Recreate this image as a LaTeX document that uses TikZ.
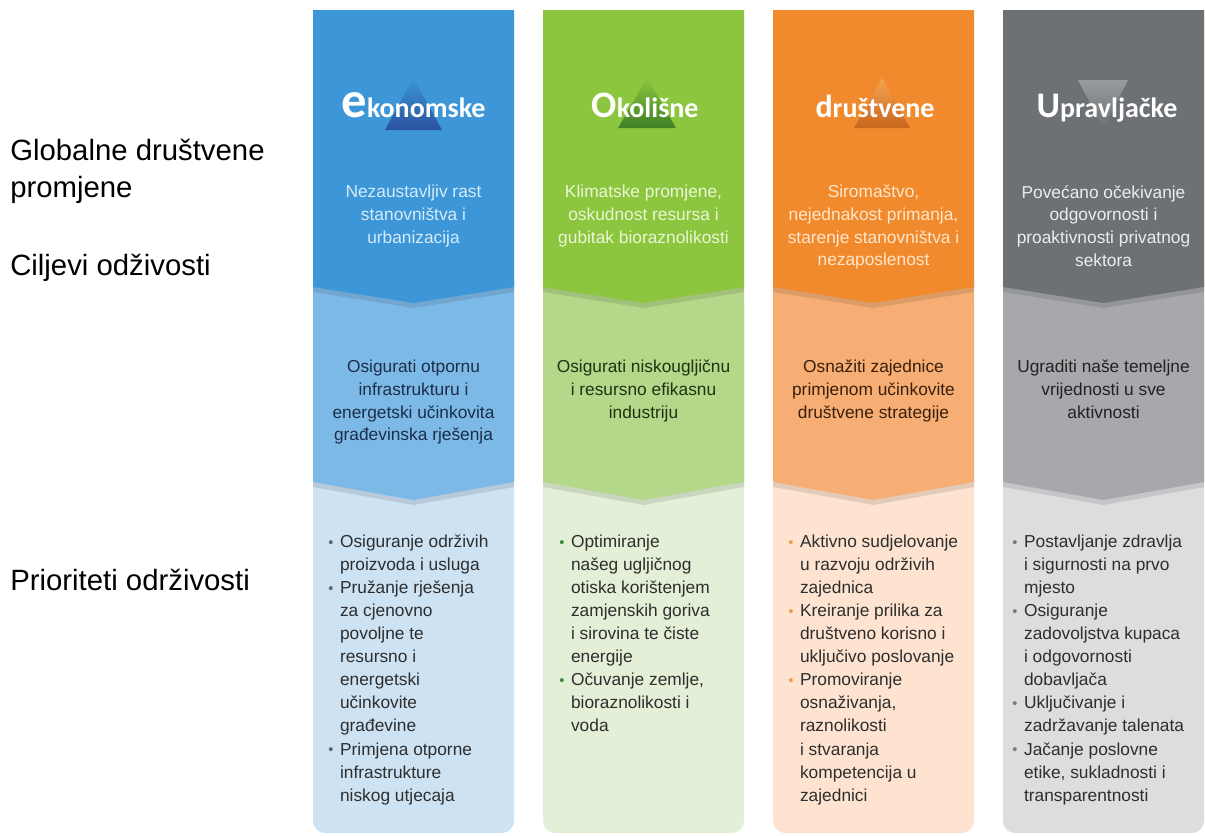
\documentclass[tikz,border=0pt]{standalone}
\usepackage{fontspec}
\setmainfont{Liberation Sans}
\newfontfamily\naslovfont{Carlito}

\definecolor{ekoVrh}{HTML}{3C96D7}
\definecolor{ekoSred}{HTML}{7DB9E7}
\definecolor{ekoDno}{HTML}{CDE2F3}
\definecolor{ekoTamna}{HTML}{2B52A0}
\definecolor{ekoSvj}{HTML}{D6EBFA}
\definecolor{ekoTekst}{HTML}{1C2E4A}
\definecolor{ekoTocka}{HTML}{5F6670}

\definecolor{okoVrh}{HTML}{8CC63E}
\definecolor{okoSred}{HTML}{B4D88A}
\definecolor{okoDno}{HTML}{E3EFD6}
\definecolor{okoTamna}{HTML}{3F7F27}
\definecolor{okoSvj}{HTML}{EAF6D6}
\definecolor{okoTekst}{HTML}{203212}
\definecolor{okoTocka}{HTML}{3C8C3C}

\definecolor{druVrh}{HTML}{F08A2C}
\definecolor{druSred}{HTML}{F6AE74}
\definecolor{druDno}{HTML}{FDE3D0}
\definecolor{druTamna}{HTML}{C9661C}
\definecolor{druSvjTr}{HTML}{F5A552}
\definecolor{druSvj}{HTML}{FFE6CC}
\definecolor{druTekst}{HTML}{3A1F0A}
\definecolor{druTocka}{HTML}{F39A4B}

\definecolor{uprVrh}{HTML}{6D7074}
\definecolor{uprSred}{HTML}{A6A8AB}
\definecolor{uprDno}{HTML}{DCDDDF}
\definecolor{uprSvjTr}{HTML}{999C9F}
\definecolor{uprSvj}{HTML}{EDEDED}
\definecolor{uprTekst}{HTML}{222222}
\definecolor{uprTocka}{HTML}{77797C}

\newcommand{\tocka}[1]{\textcolor{#1}{\raisebox{0.2pt}{\fontsize{11}{11}\selectfont\textbullet}}}

\tikzset{
	oznaka/.style={font=\fontsize{22}{27.75}\selectfont, align=left, inner sep=0pt},
	naslov/.style={font=\naslovfont\bfseries\fontsize{21}{21}\selectfont, text=white, anchor=base, inner sep=0pt},
	trend/.style={font=\fontsize{13}{17}\selectfont, align=center, anchor=north, inner sep=0pt},
	cilj/.style={font=\fontsize{13}{17}\selectfont, align=center, anchor=north, inner sep=0pt},
	prioritet/.style={font=\fontsize{13}{17.3}\selectfont, text=black!82, anchor=north west, inner sep=0pt},
	sjena/.style={fill=black, opacity=0.1},
}

\begin{document}
\begin{tikzpicture}[x=0.75pt,y=-0.75pt]
	\useasboundingbox (0,0) rectangle (1205,835);
	
	% oznake lijevo
	\node[oznaka, anchor=north west] (globalne) at (10,139) {Globalne društvene\\promjene};
	\node[oznaka, anchor=base west] (ciljevi) at (10,275) {Ciljevi odživosti};
	\node[oznaka, anchor=base west] (prioriteti) at (10,590) {Prioriteti održivosti};
	
	% ekonomske
	\fill[ekoDno, rounded corners=9pt] (313,290) rectangle (514,833);
	\fill[sjena] (313,285) -- (313,487) -- (413.5,505) -- (514,487) -- (514,285) -- cycle;
	\fill[ekoSred] (313,280) -- (313,482) -- (413.5,500) -- (514,482) -- (514,280) -- cycle;
	\fill[sjena] (313,15) -- (313,292) -- (413.5,308) -- (514,292) -- (514,15) -- cycle;
	\fill[ekoVrh] (313,10) -- (313,287) -- (413.5,303) -- (514,287) -- (514,10) -- cycle;
	\shade[top color=ekoVrh, bottom color=ekoTamna] (413.5,78) -- (442,130) -- (385,130) -- cycle;
	\node[naslov] (ekoNaslov) at (413.5,117) {{\fontsize{38}{38}\selectfont e}konomske};
	\node[trend, text=ekoSvj] (ekoTrend) at (413.5,185) {Nezaustavljiv rast\\stanovništva i\\urbanizacija};
	\node[cilj, text=ekoTekst] (ekoCilj) at (413.5,360) {Osigurati otpornu\\infrastrukturu i\\energetski učinkovita\\građevinska rješenja};
	\node[prioritet] (ekoPrior) at (328,531) {\begin{tabular}{@{}l@{\hspace{5pt}}l@{}}
			\tocka{ekoTocka} & Osiguranje održivih\\
			& proizvoda i usluga\\
			\tocka{ekoTocka} & Pružanje rješenja\\
			& za cjenovno\\
			& povoljne te\\
			& resursno i\\
			& energetski\\
			& učinkovite\\
			& građevine\\
			\tocka{ekoTocka} & Primjena otporne\\
			& infrastrukture\\
			& niskog utjecaja
		\end{tabular}};
	
	% okolisne
	\fill[okoDno, rounded corners=9pt] (543,290) rectangle (744,833);
	\fill[sjena] (543,285) -- (543,487) -- (643.5,505) -- (744,487) -- (744,285) -- cycle;
	\fill[okoSred] (543,280) -- (543,482) -- (643.5,500) -- (744,482) -- (744,280) -- cycle;
	\fill[sjena] (543,15) -- (543,292) -- (643.5,308) -- (744,292) -- (744,15) -- cycle;
	\fill[okoVrh] (543,10) -- (543,287) -- (643.5,303) -- (744,287) -- (744,10) -- cycle;
	\shade[top color=okoVrh, bottom color=okoTamna] (647,78) -- (676,128) -- (618,128) -- cycle;
	\node[naslov] (okoNaslov) at (645,117) {{\fontsize{28}{28}\selectfont O}kolišne};
	\node[trend, text=okoSvj] (okoTrend) at (643.5,185) {Klimatske promjene,\\oskudnost resursa i\\gubitak bioraznolikosti};
	\node[cilj, text=okoTekst] (okoCilj) at (643.5,360) {Osigurati niskougljičnu\\i resursno efikasnu\\industriju};
	\node[prioritet] (okoPrior) at (559,531) {\begin{tabular}{@{}l@{\hspace{5pt}}l@{}}
			\tocka{okoTocka} & Optimiranje\\
			& našeg ugljičnog\\
			& otiska korištenjem\\
			& zamjenskih goriva\\
			& i sirovina te čiste\\
			& energije\\
			\tocka{okoTocka} & Očuvanje zemlje,\\
			& bioraznolikosti i\\
			& voda
		\end{tabular}};
	
	% drustvene
	\fill[druDno, rounded corners=9pt] (773,290) rectangle (974,833);
	\fill[sjena] (773,285) -- (773,487) -- (873.5,505) -- (974,487) -- (974,285) -- cycle;
	\fill[druSred] (773,280) -- (773,482) -- (873.5,500) -- (974,482) -- (974,280) -- cycle;
	\fill[sjena] (773,15) -- (773,292) -- (873.5,308) -- (974,292) -- (974,15) -- cycle;
	\fill[druVrh] (773,10) -- (773,287) -- (873.5,303) -- (974,287) -- (974,10) -- cycle;
	\shade[top color=druSvjTr, bottom color=druTamna] (882,78) -- (910,128) -- (854,128) -- cycle;
	\node[naslov] (druNaslov) at (875,117) {{\fontsize{24}{24}\selectfont d}ruštvene};
	\node[trend, text=druSvj] (druTrend) at (873.5,185) {Siromaštvo,\\nejednakost primanja,\\starenje stanovništva i\\nezaposlenost};
	\node[cilj, text=druTekst] (druCilj) at (873.5,360) {Osnažiti zajednice\\primjenom učinkovite\\društvene strategije};
	\node[prioritet] (druPrior) at (788,531) {\begin{tabular}{@{}l@{\hspace{5pt}}l@{}}
			\tocka{druTocka} & Aktivno sudjelovanje\\
			& u razvoju održivih\\
			& zajednica\\
			\tocka{druTocka} & Kreiranje prilika za\\
			& društveno korisno i\\
			& uključivo poslovanje\\
			\tocka{druTocka} & Promoviranje\\
			& osnaživanja,\\
			& raznolikosti\\
			& i stvaranja\\
			& kompetencija u\\
			& zajednici
		\end{tabular}};
	
	% upravljacke
	\fill[uprDno, rounded corners=9pt] (1003,290) rectangle (1204,833);
	\fill[sjena] (1003,285) -- (1003,487) -- (1103.5,505) -- (1204,487) -- (1204,285) -- cycle;
	\fill[uprSred] (1003,280) -- (1003,482) -- (1103.5,500) -- (1204,482) -- (1204,280) -- cycle;
	\fill[sjena] (1003,15) -- (1003,292) -- (1103.5,308) -- (1204,292) -- (1204,15) -- cycle;
	\fill[uprVrh] (1003,10) -- (1003,287) -- (1103.5,303) -- (1204,287) -- (1204,10) -- cycle;
	\shade[top color=uprSvjTr, bottom color=uprVrh] (1078,80) -- (1128,80) -- (1103,128) -- cycle;
	\node[naslov] (uprNaslov) at (1107,117) {{\fontsize{27}{27}\selectfont U}pravljačke};
	\node[trend, text=uprSvj] (uprTrend) at (1103.5,185) {Povećano očekivanje\\odgovornosti i\\proaktivnosti privatnog\\sektora};
	\node[cilj, text=uprTekst] (uprCilj) at (1103.5,360) {Ugraditi naše temeljne\\vrijednosti u sve\\aktivnosti};
	\node[prioritet] (uprPrior) at (1012,531) {\begin{tabular}{@{}l@{\hspace{5pt}}l@{}}
			\tocka{uprTocka} & Postavljanje zdravlja\\
			& i sigurnosti na prvo\\
			& mjesto\\
			\tocka{uprTocka} & Osiguranje\\
			& zadovoljstva kupaca\\
			& i odgovornosti\\
			& dobavljača\\
			\tocka{uprTocka} & Uključivanje i\\
			& zadržavanje talenata\\
			\tocka{uprTocka} & Jačanje poslovne\\
			& etike, sukladnosti i\\
			& transparentnosti
		\end{tabular}};
\end{tikzpicture}
\end{document}
